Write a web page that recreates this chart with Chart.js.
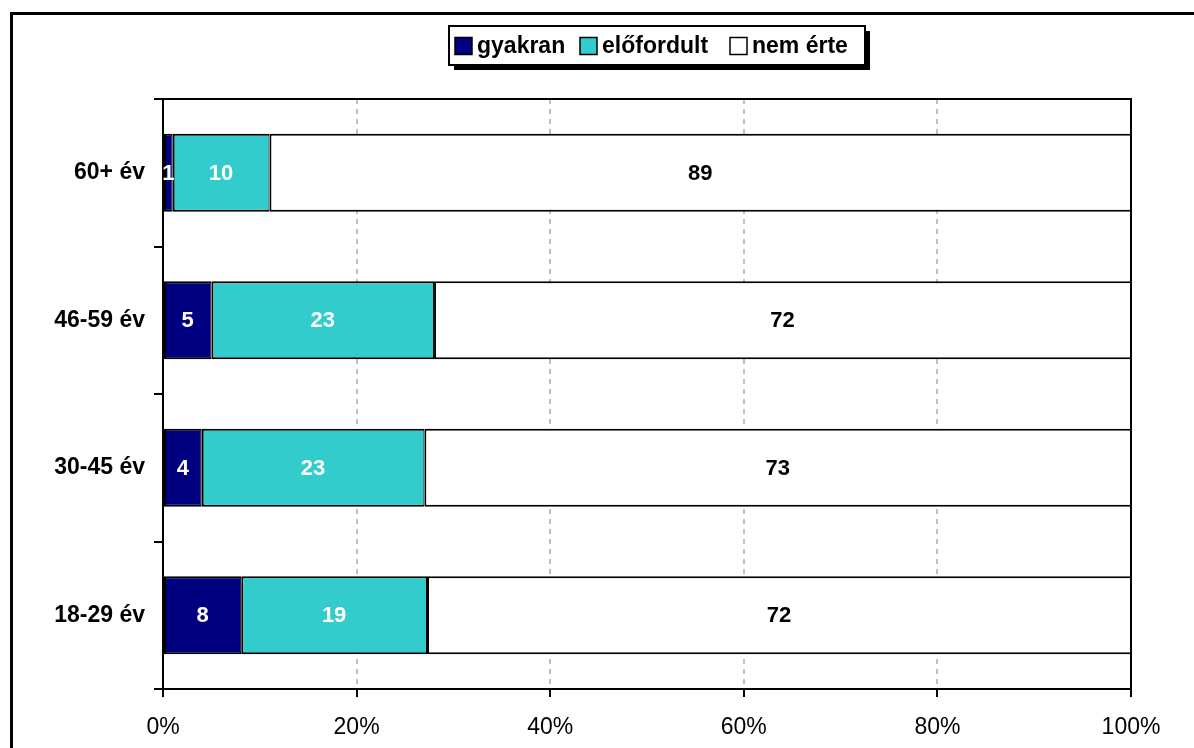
<!DOCTYPE html>
<html>
<head>
<meta charset="utf-8">
<script src="https://cdn.jsdelivr.net/npm/chart.js@4/dist/chart.umd.min.js"></script>
<style>
  html, body { margin: 0; padding: 0; background: #fff; }
  #wrap { width: 1194px; height: 748px; position: relative; }
</style>
</head>
<body>
<div id="wrap"><canvas id="c" width="1194" height="748"></canvas></div>
<script>
// ---- data ----
const categories = ['60+ év', '46-59 év', '30-45 év', '18-29 év'];
const seriesNames = ['gyakran', 'előfordult', 'nem érte'];
const gyakran = [1, 5, 4, 8];
const elofordult = [10, 23, 23, 19];
const nemErte = [89, 72, 73, 72];
const xTickValues = [0, 20, 40, 60, 80, 100];
const seriesColors = ['#000080', '#33CCCC', '#FFFFFF'];
const labelColors = ['#FFFFFF', '#FFFFFF', '#000000'];

const rawSeries = [gyakran, elofordult, nemErte];
const totals = categories.map((_, i) => rawSeries.reduce((s, arr) => s + arr[i], 0));
const pctSeries = rawSeries.map(arr => arr.map((v, i) => v / totals[i] * 100));

const FONT = '"Liberation Sans", Arial, sans-serif';

const frameAndLegend = {
  id: 'frameAndLegend',
  afterDraw(chart) {
    const ctx = chart.ctx;
    const ca = chart.chartArea;
    ctx.save();
    // plot area top and right border
    ctx.strokeStyle = '#000';
    ctx.lineWidth = 2;
    ctx.beginPath();
    ctx.moveTo(ca.left, ca.top);
    ctx.lineTo(ca.right, ca.top);
    ctx.lineTo(ca.right, ca.bottom);
    ctx.stroke();
    // outer frame (extends past the canvas right/bottom)
    ctx.lineWidth = 3;
    ctx.beginPath();
    ctx.moveTo(11.5, 760);
    ctx.lineTo(11.5, 13.5);
    ctx.lineTo(1200, 13.5);
    ctx.stroke();
    // legend box with shadow
    const bx = 449, by = 26, bw = 416, bh = 39, sh = 5;
    ctx.fillStyle = '#000';
    ctx.fillRect(bx + sh, by + sh, bw, bh);
    ctx.fillStyle = '#fff';
    ctx.fillRect(bx, by, bw, bh);
    ctx.lineWidth = 2;
    ctx.strokeRect(bx, by, bw, bh);
    // legend items
    const itemX = [455, 580, 730];
    const cy = by + bh / 2;
    ctx.font = 'bold 23px ' + FONT;
    ctx.textBaseline = 'middle';
    ctx.textAlign = 'left';
    seriesNames.forEach((name, i) => {
      const x = itemX[i];
      ctx.fillStyle = seriesColors[i];
      ctx.fillRect(x, cy - 8, 17, 17);
      ctx.lineWidth = 1.5;
      ctx.strokeStyle = '#000';
      ctx.strokeRect(x, cy - 8, 17, 17);
      ctx.fillStyle = '#000';
      ctx.fillText(name, x + 22, cy + 1);
    });
    ctx.restore();
  },
  afterDatasetsDraw(chart) {
    const ctx = chart.ctx;
    ctx.save();
    ctx.font = 'bold 22px ' + FONT;
    ctx.textAlign = 'center';
    ctx.textBaseline = 'middle';
    chart.data.datasets.forEach((ds, di) => {
      const meta = chart.getDatasetMeta(di);
      meta.data.forEach((bar, i) => {
        const cx = (bar.x + bar.base) / 2;
        ctx.fillStyle = labelColors[di];
        ctx.fillText(String(rawSeries[di][i]), cx, bar.y + 1);
      });
    });
    ctx.restore();
  }
};

new Chart(document.getElementById('c'), {
  type: 'bar',
  data: {
    labels: categories,
    datasets: seriesNames.map((name, i) => ({
      label: name,
      data: pctSeries[i],
      backgroundColor: seriesColors[i],
      borderColor: '#000',
      borderWidth: { top: 2, bottom: 2, left: 2, right: 1 },
      borderSkipped: false,
      barPercentage: 0.53,
      categoryPercentage: 1.0
    }))
  },
  options: {
    indexAxis: 'y',
    responsive: false,
    animation: false,
    devicePixelRatio: 1,
    layout: { padding: { left: 0, right: 63, top: 99, bottom: 0 } },
    plugins: {
      legend: { display: false },
      tooltip: { enabled: false },
      title: { display: false }
    },
    scales: {
      x: {
        stacked: true,
        min: 0,
        max: 100,
        afterFit(scale) { scale.height = 59; },
        afterBuildTicks(scale) { scale.ticks = xTickValues.map(v => ({ value: v })); },
        ticks: {
          callback: v => v + '%',
          color: '#000',
          font: { family: FONT, size: 23 },
          padding: 17,
          maxRotation: 0
        },
        grid: {
          color: ctx => (ctx.tick && (ctx.tick.value === 0 || ctx.tick.value === 100)) ? 'rgba(0,0,0,0)' : '#c0c0c0',
          lineWidth: 2,
          tickColor: '#000',
          tickLength: 8,
          tickWidth: 2,
          tickBorderDash: []
        },
        border: { display: true, color: '#000', width: 2, dash: [5, 5] }
      },
      y: {
        stacked: true,
        afterFit(scale) { scale.width = 163; },
        ticks: {
          color: '#000',
          font: { family: FONT, size: 23, weight: 'bold' },
          padding: 9
        },
        grid: {
          offset: true,
          drawOnChartArea: false,
          color: '#000',
          lineWidth: 2,
          tickLength: 9
        },
        border: { display: true, color: '#000', width: 2 }
      }
    }
  },
  plugins: [frameAndLegend]
});
</script>
</body>
</html>
